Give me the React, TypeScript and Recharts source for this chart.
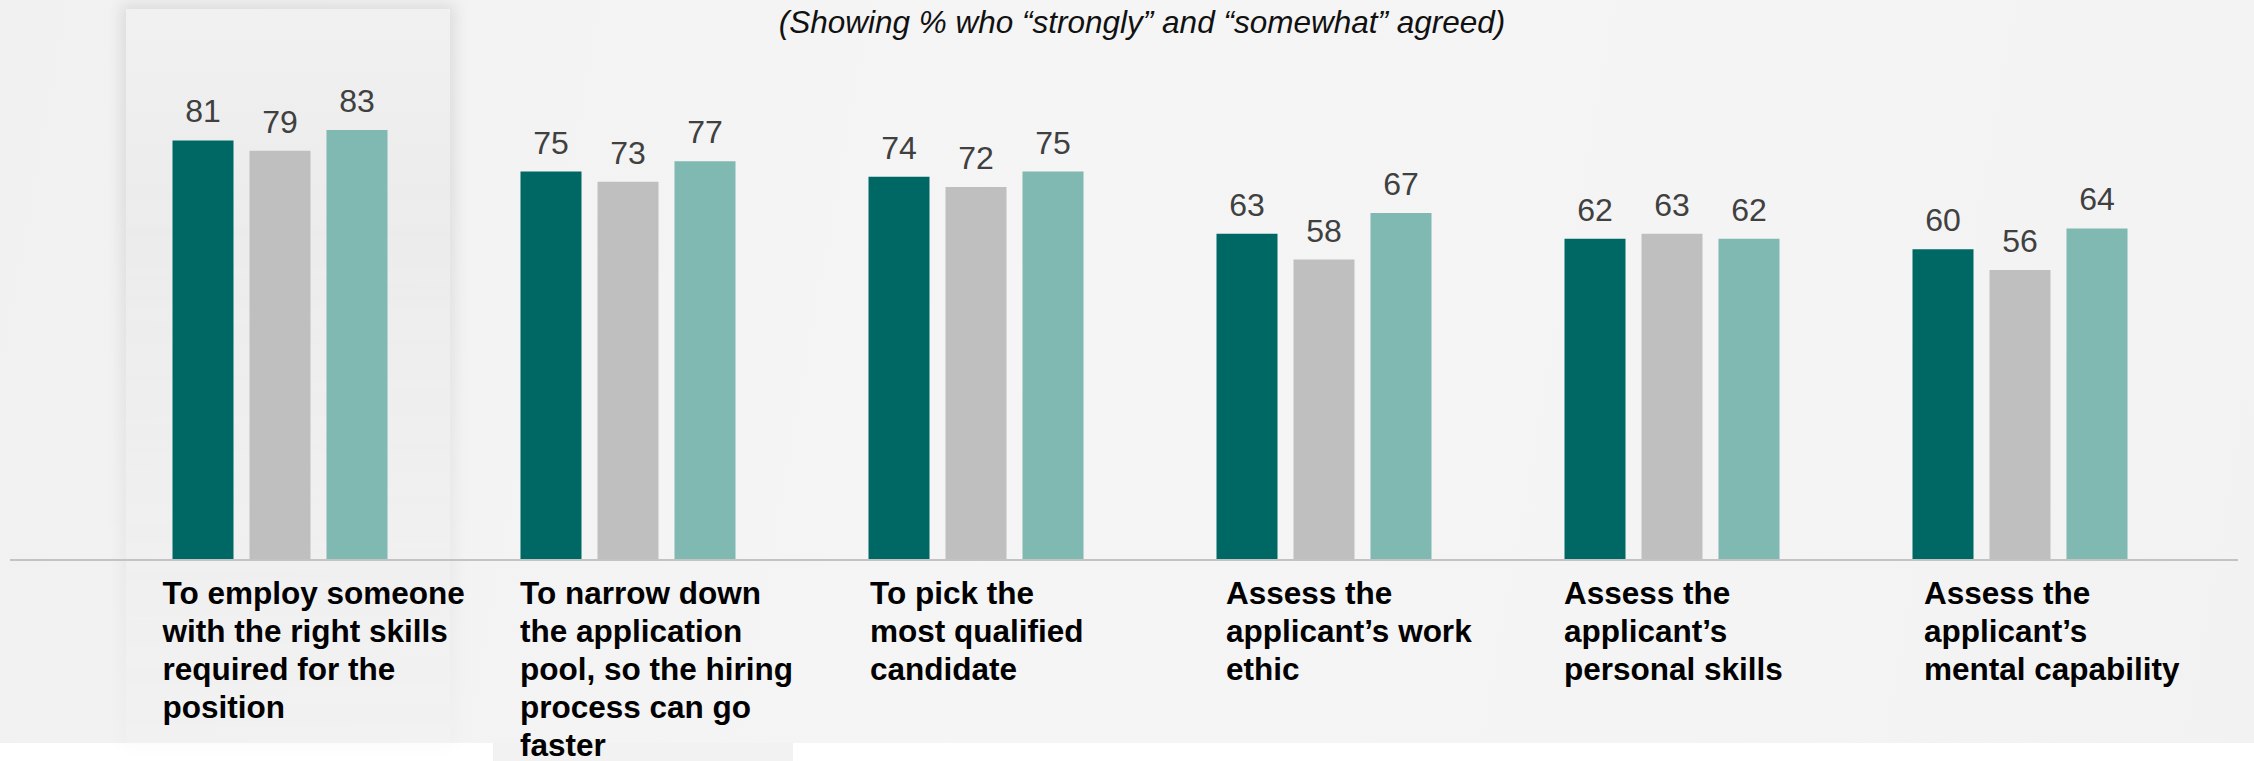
import { BarChart, Bar, XAxis, YAxis, LabelList } from "recharts";

const categories = [
  "To employ someone\nwith the right skills\nrequired for the\nposition",
  "To narrow down\nthe application\npool, so the hiring\nprocess can go\nfaster",
  "To pick the\nmost qualified\ncandidate",
  "Assess the\napplicant’s work\nethic",
  "Assess the\napplicant’s\npersonal skills",
  "Assess the\napplicant’s\nmental capability",
];
const seriesOne = [81, 75, 74, 63, 62, 60];
const seriesTwo = [79, 73, 72, 58, 63, 56];
const seriesThree = [83, 77, 75, 67, 62, 64];

const data = categories.map((name, i) => ({
  name,
  one: seriesOne[i],
  two: seriesTwo[i],
  three: seriesThree[i],
}));

// left edge of each category label, relative to the band centre
const labelShift = [-117, -107.5, -105.5, -97.5, -107.5, -95.5];

const FONT = '"Liberation Sans", Arial, sans-serif';

const CategoryTick = (props: any) => {
  const { x, y, payload, index } = props;
  const lines = String(payload.value).split("\n");
  const left = x + labelShift[index ?? payload.index ?? 0];
  return (
    <text x={left} y={y} fontFamily={FONT} fontWeight="bold" fontSize={31.5} fill="#000" textAnchor="start">
      {lines.map((line, i) => (
        <tspan key={i} x={left} dy={i === 0 ? 44 : 38}>
          {line}
        </tspan>
      ))}
    </text>
  );
};

const labelStyle = { fill: "#404040", fontSize: 32, fontFamily: FONT };

const App = () => {
  return (
    <div style={{ position: "absolute", left: 0, top: 0, width: 2254, height: 761, background: "#fff", overflow: "hidden" }}>
      <div
        style={{
          position: "absolute",
          left: 0,
          top: 0,
          width: 2254,
          height: 743,
          background: "linear-gradient(100deg, #f1f1f1 0%, #f5f5f5 45%, #f4f4f4 75%, #f2f2f2 100%)",
        }}
      />
      <div style={{ position: "absolute", left: 493, top: 743, width: 300, height: 18, background: "#f2f2f2" }} />
      <div
        style={{
          position: "absolute",
          left: 106,
          top: -11,
          width: 364,
          height: 774,
          WebkitMaskImage: "linear-gradient(to bottom, #000 0%, #000 25%, rgba(0,0,0,0.15) 100%)",
          maskImage: "linear-gradient(to bottom, #000 0%, #000 25%, rgba(0,0,0,0.15) 100%)",
        }}
      >
        <div
          style={{
            position: "absolute",
            left: 20,
            top: 20,
            width: 324,
            height: 734,
            background: "linear-gradient(to bottom, #f1f1f1 0%, #ebebeb 30%, #eeeeee 100%)",
            boxShadow: "0 0 14px 5px rgba(0,0,0,0.09)",
          }}
        />
      </div>
      <div
        style={{
          position: "absolute",
          left: 0,
          top: 6.6,
          width: 2284,
          textAlign: "center",
          fontFamily: FONT,
          fontStyle: "italic",
          fontSize: 31.5,
          lineHeight: "31.5px",
          color: "#111",
          whiteSpace: "nowrap",
        }}
      >
        (Showing % who “strongly” and “somewhat” agreed)
      </div>
      <div style={{ position: "absolute", left: 0, top: 0 }}>
        <BarChart
          width={2254}
          height={761}
          data={data}
          margin={{ top: 42, right: 16, bottom: 0, left: 10 }}
          barSize={61}
          barGap={16}
        >
          <XAxis
            dataKey="name"
            interval={0}
            height={201}
            padding={{ left: 95.5, right: 44.5 }}
            axisLine={{ stroke: "#c3c3c3", strokeWidth: 2 }}
            tickLine={false}
            tickSize={0}
            tickMargin={0}
            tick={<CategoryTick />}
          />
          <YAxis hide domain={[0, 100]} />
          <Bar dataKey="one" fill="#006864" isAnimationActive={false}>
            <LabelList dataKey="one" position="top" offset={18} style={labelStyle} />
          </Bar>
          <Bar dataKey="two" fill="#bfbfbf" isAnimationActive={false}>
            <LabelList dataKey="two" position="top" offset={18} style={labelStyle} />
          </Bar>
          <Bar dataKey="three" fill="#80b8b2" isAnimationActive={false}>
            <LabelList dataKey="three" position="top" offset={18} style={labelStyle} />
          </Bar>
        </BarChart>
      </div>
    </div>
  );
};

export default App;
